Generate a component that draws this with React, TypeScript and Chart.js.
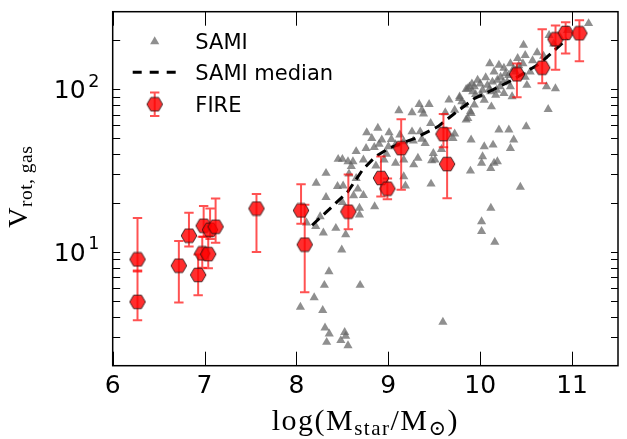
import React, { useEffect, useRef } from 'react';
import { Chart, registerables } from 'chart.js';

Chart.register(...registerables);

// ---------------- data ----------------
const X_MIN = 6;
const X_MAX = 11.5;
const Y_MIN = 2;
const Y_MAX = 300;
const xTickValues = [6, 7, 8, 9, 10, 11];
const yMajorTicks = [10, 100];
const yMajorExponents = ['1', '2'];
const yMinorTicks = [3, 4, 5, 6, 7, 8, 9, 20, 30, 40, 50, 60, 70, 80, 90, 200];

const legendLabels = ['SAMI', 'SAMI median', 'FIRE'];

const samiMass = [
  9.115, 9.258, 9.336, 9.444, 9.365, 9.383, 9.461, 9.776, 9.847, 9.883, 9.919, 9.865, 9.901,
  8.765, 8.886, 9.008, 8.929, 9.033, 9.126, 9.258, 9.347, 9.365, 9.272, 9.168, 9.079, 9.001,
  8.847, 8.758, 8.65, 8.454, 8.5, 8.561, 8.615, 8.729, 8.865, 8.954, 9.079, 9.168, 9.276,
  9.322, 9.472, 9.49, 9.579, 9.704, 9.722, 9.901, 9.894, 8.322, 8.447, 8.508, 8.572, 8.597,
  8.65, 8.668, 8.729, 8.622, 8.5, 8.322, 8.215, 8.11, 8.21, 8.293, 8.429, 8.536, 8.493,
  8.686, 8.686, 8.851, 9.186, 9.168, 9.465, 9.508, 8.354, 8.304, 8.693, 8.193, 8.043, 8.286,
  9.594, 8.311, 8.357, 8.329, 8.525, 8.483, 8.561, 8.536, 8.258,
  11.18, 10.472, 10.49, 10.408, 10.465, 10.329, 10.258, 10.104, 10.151, 10.204, 10.276, 10.222,
  10.187, 10.133, 10.079, 10.026, 9.972, 9.936, 9.865, 9.776, 9.829, 9.894, 9.936, 10.008,
  10.044, 10.122, 10.169, 10.258, 10.329, 10.347, 10.383, 10.49, 10.508, 10.294, 10.115,
  10.215, 10.544, 10.722, 10.819, 10.74, 10.044, 10.026, 10.14, 10.204, 10.312, 10.365,
  10.329, 10.151, 10.187, 10.115, 10.015, 10.501, 9.722, 9.847, 9.401, 10.437, 10.116,
  10.015, 10.015, 10.159, 10.69, 10.8, 10.95, 10.75,
  9.95, 10.0, 10.06, 10.1, 10.18, 10.25, 10.31, 10.36, 10.42, 10.57, 10.62, 9.8, 9.91, 9.66, 9.62,
  8.9, 8.82, 8.98,
];
const samiVrot = [
  74.0, 71.9, 80.9, 80.9, 74.6, 70.6, 61.8, 90.1, 100, 103.7, 96.8, 66.4, 71.2,
  54.2, 57.7, 54.2, 48.9, 49.3, 52.5, 54.9, 54.9, 49.5, 48.2, 47.7, 45.8, 44.5,
  44.0, 43.4, 41.5, 37.2, 37.2, 36.0, 36.0, 36.9, 33.9, 36.9, 35.2, 36.9, 34.4,
  37.8, 36.5, 40.4, 42.8, 50.0, 53.2, 48.9, 31.5, 30.5, 25.3, 25.5, 30.2, 33.6,
  28.4, 24.4, 22.3, 22.2, 20.2, 21.7, 26.5, 15.1, 14.4, 13.1, 14.0, 12.8, 10.3,
  16.9, 18.6, 19.0, 25.5, 29.1, 26.2, 36.9, 7.57, 6.25, 6.25, 5.25, 4.58, 4.38,
  3.71, 3.42, 3.14, 2.79, 3.21, 2.86, 2.66, 3.04, 16.5,
  254, 187, 162, 155, 144, 144, 135, 144, 128, 141, 125, 119,
  114, 111, 106, 99, 114, 104, 101, 88.1, 80.2, 72.9, 80.2, 92.3,
  85.9, 78.2, 92.3, 94.4, 104, 90.2, 128, 119, 106, 111, 96.7,
  104, 128, 104, 101, 75.3, 44.5, 38.6, 45.5, 56.3, 56.3, 48.9,
  43.4, 35.2, 36.0, 32.7, 35.2, 59.0, 74.6, 64.9, 46.6, 25.1, 18.6,
  15.4, 13.4, 11.5, 160, 190, 230, 215,
  93, 108, 118, 100, 99, 110, 122, 133, 140, 150, 168, 84, 108, 86, 72,
  46, 50, 40,
];

const medianMass = [8.17, 8.33, 8.56, 8.72, 8.86, 9.01, 9.29, 9.54, 9.72, 9.94, 10.1, 10.35, 10.65, 10.95];
const medianVrot = [14.6, 17.7, 23.5, 32, 38.6, 43.5, 50, 59, 71, 88, 97, 114, 144, 205];

const fireMass = [
  6.27, 6.27, 6.72, 6.83, 6.93, 6.975, 6.99, 7.04, 7.06, 7.12, 7.565, 8.05,
  8.09, 8.565, 8.92, 8.99, 9.14, 9.6, 9.64, 10.4, 10.675, 10.82, 10.93, 11.08,
];
const fireVrot = [
  4.94, 9.0, 8.24, 12.6, 7.23, 9.8, 14.5, 9.7, 13.7, 14.3, 18.5, 18.0,
  11.1, 17.7, 28.5, 24.5, 43.5, 53, 34.7, 123.6, 135.8, 203, 222, 221,
];
const fireVlow = [
  3.8, 7.6, 4.9, 10.8, 5.42, 8.0, 12.4, 7.95, 12.0, 11.4, 10.0, 14.9,
  5.65, 13.8, 21.9, 21.1, 24.1, 44, 21.4, 89.3, 109, 132, 166, 149,
];
const fireVhigh = [
  7.7, 16.2, 11.7, 17.4, 9.66, 12.4, 19.2, 12.5, 18.5, 21.3, 22.7, 26.1,
  19.5, 29.9, 38.6, 28.3, 65.4, 70.5, 57.6, 144, 234, 247, 258, 266,
];

// ---------------- styles ----------------
const SANS = '"DejaVu Sans", sans-serif';
const SERIF = '"Liberation Serif", "DejaVu Serif", serif';
const TRI_COLOR = 'rgba(100,100,100,0.72)';
const TRI_RADIUS = 5.3;
const ERR_COLOR = 'rgba(255,0,0,0.68)';
const DASH = [10, 6];

function makeHex(): HTMLCanvasElement {
  const c = document.createElement('canvas');
  c.width = 18;
  c.height = 16;
  const g = c.getContext('2d')!;
  const cx = 9, cy = 8, r = 7.8;
  g.beginPath();
  for (let k = 0; k < 6; k++) {
    const a = (Math.PI / 3) * k;
    const px = cx + r * Math.cos(a);
    const py = cy + r * Math.sin(a);
    if (k === 0) g.moveTo(px, py); else g.lineTo(px, py);
  }
  g.closePath();
  g.fillStyle = 'rgba(255,0,0,0.82)';
  g.fill();
  g.lineWidth = 1;
  g.strokeStyle = 'rgba(40,20,20,0.85)';
  g.stroke();
  return c;
}

function drawRuns(
  ctx: CanvasRenderingContext2D,
  runs: { t: string; font: string; dy: number }[],
  cx: number,
  y: number,
  spacing: number
) {
  (ctx as any).letterSpacing = `${spacing}px`;
  let total = 0;
  const widths = runs.map((r) => {
    ctx.font = r.font;
    const w = ctx.measureText(r.t).width;
    total += w;
    return w;
  });
  let x = cx - total / 2;
  ctx.textAlign = 'left';
  ctx.textBaseline = 'alphabetic';
  runs.forEach((r, i) => {
    ctx.font = r.font;
    ctx.fillText(r.t, x, y + r.dy);
    x += widths[i];
  });
  (ctx as any).letterSpacing = '0px';
}

export default function App() {
  const ref = useRef<HTMLCanvasElement>(null);

  useEffect(() => {
    const hex = makeHex();

    const decor = {
      id: 'decor',
      beforeDatasetDraw(chart: any, args: any) {
        if (args.index !== 2) return;
        const ctx = chart.ctx as CanvasRenderingContext2D;
        const xs = chart.scales.x;
        const ys = chart.scales.y;
        ctx.save();
        ctx.strokeStyle = ERR_COLOR;
        ctx.lineWidth = 2;
        for (let i = 0; i < fireMass.length; i++) {
          const px = xs.getPixelForValue(fireMass[i]);
          const y1 = ys.getPixelForValue(fireVlow[i]);
          const y2 = ys.getPixelForValue(fireVhigh[i]);
          ctx.beginPath();
          ctx.moveTo(px, y1);
          ctx.lineTo(px, y2);
          ctx.moveTo(px - 4.7, y1);
          ctx.lineTo(px + 4.7, y1);
          ctx.moveTo(px - 4.7, y2);
          ctx.lineTo(px + 4.7, y2);
          ctx.stroke();
        }
        ctx.restore();
      },
      afterDraw(chart: any) {
        const ctx = chart.ctx as CanvasRenderingContext2D;
        const { left, right, top, bottom } = chart.chartArea;
        const xs = chart.scales.x;
        const ys = chart.scales.y;
        ctx.save();
        // frame
        ctx.strokeStyle = '#000';
        ctx.lineWidth = 1.5;
        ctx.strokeRect(left, top, right - left, bottom - top);
        // x ticks (inward, bottom and top)
        ctx.lineWidth = 1;
        ctx.beginPath();
        xTickValues.forEach((v) => {
          const px = Math.round(xs.getPixelForValue(v)) + 0.5;
          ctx.moveTo(px, bottom);
          ctx.lineTo(px, bottom - 14);
          ctx.moveTo(px, top);
          ctx.lineTo(px, top + 14);
        });
        // y ticks (inward, left and right)
        [...yMajorTicks, ...yMinorTicks].forEach((v) => {
          const py = Math.round(ys.getPixelForValue(v)) + 0.5;
          ctx.moveTo(left, py);
          ctx.lineTo(left + 7.5, py);
          ctx.moveTo(right, py);
          ctx.lineTo(right - 7, py);
        });
        ctx.stroke();

        // y tick labels with superscripts
        ctx.fillStyle = '#000';
        ctx.textBaseline = 'alphabetic';
        yMajorTicks.forEach((v, i) => {
          const py = ys.getPixelForValue(v);
          const supRight = left - 13.4;
          ctx.font = `17.5px ${SANS}`;
          ctx.textAlign = 'right';
          ctx.fillText(yMajorExponents[i], supRight, py - 2.6);
          const sw = ctx.measureText(yMajorExponents[i]).width;
          ctx.font = `25px ${SANS}`;
          ctx.fillText('10', supRight - sw - 2.5, py + 9);
        });

        // x axis title
        ctx.fillStyle = '#000';
        const main = `30px ${SERIF}`;
        const sub = `21px ${SERIF}`;
        drawRuns(
          ctx,
          [
            { t: 'log(M', font: main, dy: 0 },
            { t: 'star', font: sub, dy: 5 },
            { t: '/M', font: main, dy: 0 },
            { t: '\u2299', font: sub, dy: 5 },
            { t: ')', font: main, dy: 0 },
          ],
          (left + right) / 2,
          430,
          1.5
        );

        // y axis title (rotated)
        ctx.save();
        ctx.translate(27, (top + bottom) / 2 - 2);
        ctx.rotate(-Math.PI / 2);
        drawRuns(
          ctx,
          [
            { t: 'V', font: `28px ${SERIF}`, dy: 0 },
            { t: 'rot, gas', font: `19.5px ${SERIF}`, dy: 5 },
          ],
          0,
          0,
          0.5
        );
        ctx.restore();

        // legend
        const lx = 154.7;
        const rows = [41.6, 72.3, 104.3];
        // triangle
        ctx.fillStyle = TRI_COLOR;
        ctx.beginPath();
        let rad = 0;
        for (let k = 0; k < 3; k++) {
          const px = lx + Math.sin(rad) * TRI_RADIUS;
          const py = rows[0] - Math.cos(rad) * TRI_RADIUS;
          if (k === 0) ctx.moveTo(px, py); else ctx.lineTo(px, py);
          rad += (2 * Math.PI) / 3;
        }
        ctx.closePath();
        ctx.fill();
        // dashed line
        ctx.strokeStyle = '#000';
        ctx.lineWidth = 3;
        ctx.setLineDash([9, 8]);
        ctx.beginPath();
        ctx.moveTo(132.7, rows[1]);
        ctx.lineTo(177, rows[1]);
        ctx.stroke();
        ctx.setLineDash([]);
        // hexagon with error bar
        ctx.strokeStyle = ERR_COLOR;
        ctx.lineWidth = 2;
        ctx.beginPath();
        ctx.moveTo(lx, rows[2] - 11.7);
        ctx.lineTo(lx, rows[2] + 11.7);
        ctx.moveTo(lx - 4.7, rows[2] - 11.7);
        ctx.lineTo(lx + 4.7, rows[2] - 11.7);
        ctx.moveTo(lx - 4.7, rows[2] + 11.7);
        ctx.lineTo(lx + 4.7, rows[2] + 11.7);
        ctx.stroke();
        ctx.drawImage(hex, lx - 9, rows[2] - 8);
        // legend text
        ctx.fillStyle = '#000';
        ctx.font = `21px ${SANS}`;
        ctx.textAlign = 'left';
        ctx.textBaseline = 'alphabetic';
        legendLabels.forEach((t, i) => {
          ctx.fillText(t, 195.3, rows[i] + 7.6);
        });
        ctx.restore();
      },
    };

    const chart = new Chart(ref.current!, {
      type: 'scatter',
      data: {
        datasets: [
          {
            label: legendLabels[0],
            data: samiMass.map((x, i) => ({ x, y: samiVrot[i] })),
            pointStyle: 'triangle',
            pointRadius: TRI_RADIUS,
            backgroundColor: TRI_COLOR,
            borderWidth: 0,
            order: 3,
          },
          {
            label: legendLabels[1],
            data: medianMass.map((x, i) => ({ x, y: medianVrot[i] })),
            showLine: true,
            borderColor: '#000',
            borderWidth: 3,
            borderDash: DASH,
            pointRadius: 0,
            fill: false,
            tension: 0,
            order: 2,
          },
          {
            label: legendLabels[2],
            data: fireMass.map((x, i) => ({ x, y: fireVrot[i] })),
            pointStyle: hex as any,
            pointRadius: 8,
            order: 1,
          },
        ],
      } as any,
      options: {
        animation: false,
        responsive: true,
        maintainAspectRatio: false,
        layout: { padding: { top: 11.7, right: 1.3, left: 0, bottom: 0 } },
        plugins: { legend: { display: false }, tooltip: { enabled: false } },
        events: [],
        scales: {
          x: {
            type: 'linear',
            min: X_MIN,
            max: X_MAX,
            grid: { display: false, drawTicks: false },
            border: { display: false },
            ticks: {
              font: { family: SANS, size: 25 },
              color: '#000',
              padding: 6,
              maxRotation: 0,
              autoSkip: false,
            },
            afterBuildTicks: (s: any) => {
              s.ticks = xTickValues.map((v) => ({ value: v }));
            },
            afterFit: (s: any) => {
              s.height = 73.3;
            },
          },
          y: {
            type: 'logarithmic',
            min: Y_MIN,
            max: Y_MAX,
            grid: { display: false, drawTicks: false },
            border: { display: false },
            ticks: { display: false },
            afterFit: (s: any) => {
              s.width = 112.7;
            },
          },
        },
      } as any,
      plugins: [decor],
    });
    return () => chart.destroy();
  }, []);

  return (
    <div style={{ position: 'absolute', left: 0, top: 0, width: 627, height: 439, background: '#fff' }}>
      <canvas ref={ref} />
    </div>
  );
}
